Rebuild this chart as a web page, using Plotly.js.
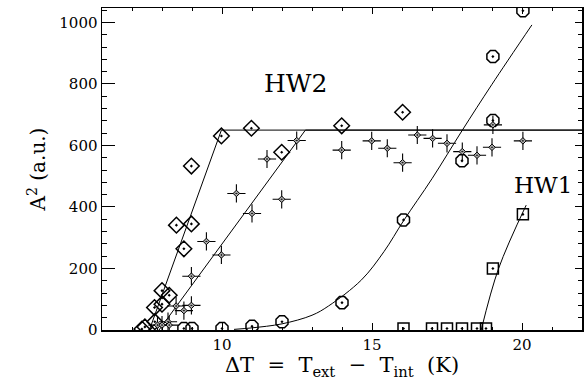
<!DOCTYPE html>
<html>
<head>
<meta charset="utf-8">
<script src="https://cdn.plot.ly/plotly-3.0.1.min.js"></script>
<style>
  html, body { margin: 0; padding: 0; background: #fff; }
  #plot { width: 588px; height: 383px; }
</style>
</head>
<body>
<div id="plot"></div>
<script>
// HW2, first set (open diamonds)
const diamondDT = [7.33, 7.43, 7.75, 7.76, 8.0, 8.0, 8.24, 8.48, 8.73, 8.98, 8.98, 9.98, 10.98, 11.99, 13.99, 16.02];
const diamondA2 = [3, 10, 73, 27, 128, 84, 113, 341, 264, 345, 533, 631, 656, 578, 664, 708];

// HW2, second set (stars)
const starDT = [7.85, 8.0, 8.2, 8.24, 8.47, 8.73, 8.98, 8.98, 9.48, 9.98, 10.48, 11.0, 11.5, 11.99, 12.49,
                13.99, 14.99, 15.51, 16.02, 16.51, 17.02, 17.5, 18.01, 18.5, 19.0, 19.03, 20.03];
const starA2 = [16, 16, 27, 16, 78, 63, 80, 175, 288, 244, 444, 379, 556, 425, 616,
                585, 615, 591, 544, 634, 623, 607, 580, 568, 594, 667, 615];

// Octagons
const circleDT = [8.73, 9.0, 10.0, 11.0, 12.0, 14.0, 16.05, 18.0, 19.03, 19.03, 20.03];
const circleA2 = [5, 5, 5, 12, 27, 89, 358, 550, 681, 889, 1038];

// HW1 (open squares)
const squareDT = [16.05, 17.0, 17.5, 18.0, 18.5, 18.8, 19.03, 20.03];
const squareA2 = [5, 5, 5, 5, 5, 5, 200, 376];

// Fitted curves
const fitDiamondDT = [7.58, 9.98, 22];
const fitDiamondA2 = [0, 650, 650];
const fitStarDT = [7.9, 12.78, 22];
const fitStarA2 = [0, 650, 650];
const fitCircleDT = [10.4, 11, 12, 13, 13.55, 14.65, 15.4, 16.05, 17, 18, 19, 20.33];
const fitCircleA2 = [2, 7, 20, 48, 78, 163, 255, 355, 492, 648, 799, 992];
const fitSquareDT = [18.64, 19.22, 20.14];
const fitSquareA2 = [0, 200, 406];

// Axis ticks
const xTicks = [10, 15, 20];
const yTicks = [0, 200, 400, 600, 800, 1000];

const serif = "DejaVu Serif, Liberation Serif, serif";
const X_RANGE = [6, 22];
const Y_RANGE = [0, 1047];
const SP = '\u00a0';
const SP2 = SP + SP;

function line(x, y, shape) {
  return { x: x, y: y, mode: 'lines', type: 'scatter', showlegend: false, hoverinfo: 'skip',
           line: { color: '#000', width: 1, shape: shape || 'linear' } };
}
function pts(x, y, symbol, size, width) {
  return { x: x, y: y, mode: 'markers', type: 'scatter', showlegend: false,
           marker: { symbol: symbol, size: size, color: '#000', line: { color: '#000', width: width } } };
}

const traces = [
  line(fitDiamondDT, fitDiamondA2),
  line(fitStarDT, fitStarA2),
  line(fitCircleDT, fitCircleA2, 'spline'),
  line(fitSquareDT, fitSquareA2, 'spline'),
  pts(diamondDT, diamondA2, 'diamond-open-dot', 12, 1.5),
  pts(circleDT, circleA2, 'octagon-open-dot', 13, 1.5),
  pts(squareDT, squareA2, 'square-open-dot', 11, 1.5),
  pts(starDT, starA2, 'cross-thin-open', 13, 1.1),
  { x: starDT, y: starA2, mode: 'markers', type: 'scatter', showlegend: false,
    marker: { symbol: 'diamond-dot', size: 5, color: '#aaa', line: { color: '#000', width: 1 } } }
];

const axisCommon = {
  showgrid: false, zeroline: false, showline: true, linecolor: '#000', linewidth: 1.5,
  ticks: 'inside', tickcolor: '#000', tickwidth: 1,
  tickfont: { family: serif, size: 15, color: '#000' }
};

const layout = {
  width: 588, height: 383,
  margin: { l: 102, r: 6, t: 8, b: 53 },
  paper_bgcolor: '#fff', plot_bgcolor: '#fff',
  xaxis: Object.assign({}, axisCommon, {
    range: X_RANGE, tickvals: xTicks, ticklen: 7,
    minor: { dtick: 1, tick0: 0, ticklen: 3.5, ticks: 'inside', tickcolor: '#000' },
    title: { text: 'ΔT' + SP2 + '=' + SP2 + 'T<sub>ext</sub>' + SP2 + '−' + SP2 + 'T<sub>int</sub>' + SP2 + '(K)',
             font: { family: serif, size: 21, color: '#000' }, standoff: 5 }
  }),
  yaxis: Object.assign({}, axisCommon, {
    range: Y_RANGE, tickvals: yTicks, ticklen: 13,
    minor: { dtick: 40, tick0: 0, ticklen: 5, ticks: 'inside', tickcolor: '#000' },
    title: { text: 'A<sup>2</sup>' + SP + '(a.u.)', font: { family: serif, size: 20, color: '#000' }, standoff: 8 }
  }),
  xaxis2: Object.assign({}, axisCommon, {
    overlaying: 'x', side: 'top', range: X_RANGE, tickvals: xTicks, ticklen: 6, showticklabels: false,
    minor: { dtick: 1, tick0: 0, ticklen: 3, ticks: 'inside', tickcolor: '#000' }
  }),
  yaxis2: Object.assign({}, axisCommon, {
    overlaying: 'y', side: 'right', range: Y_RANGE, tickvals: yTicks, ticklen: 7, showticklabels: false,
    minor: { dtick: 40, tick0: 0, ticklen: 4, ticks: 'inside', tickcolor: '#000' }
  }),
  annotations: [
    { x: 12.46, y: 800, xref: 'x', yref: 'y', text: 'HW2', showarrow: false,
      font: { family: serif, size: 25, color: '#000' } },
    { x: 20.7, y: 471, xref: 'x', yref: 'y', text: 'HW1', showarrow: false,
      font: { family: serif, size: 23, color: '#000' } }
  ]
};

// an invisible trace anchors the mirrored axes
traces.push({ x: X_RANGE, y: Y_RANGE, xaxis: 'x2', yaxis: 'y2', mode: 'markers', type: 'scatter',
              showlegend: false, hoverinfo: 'skip', marker: { opacity: 0 } });

Plotly.newPlot('plot', traces, layout, { staticPlot: true, displayModeBar: false });
</script>
</body>
</html>
